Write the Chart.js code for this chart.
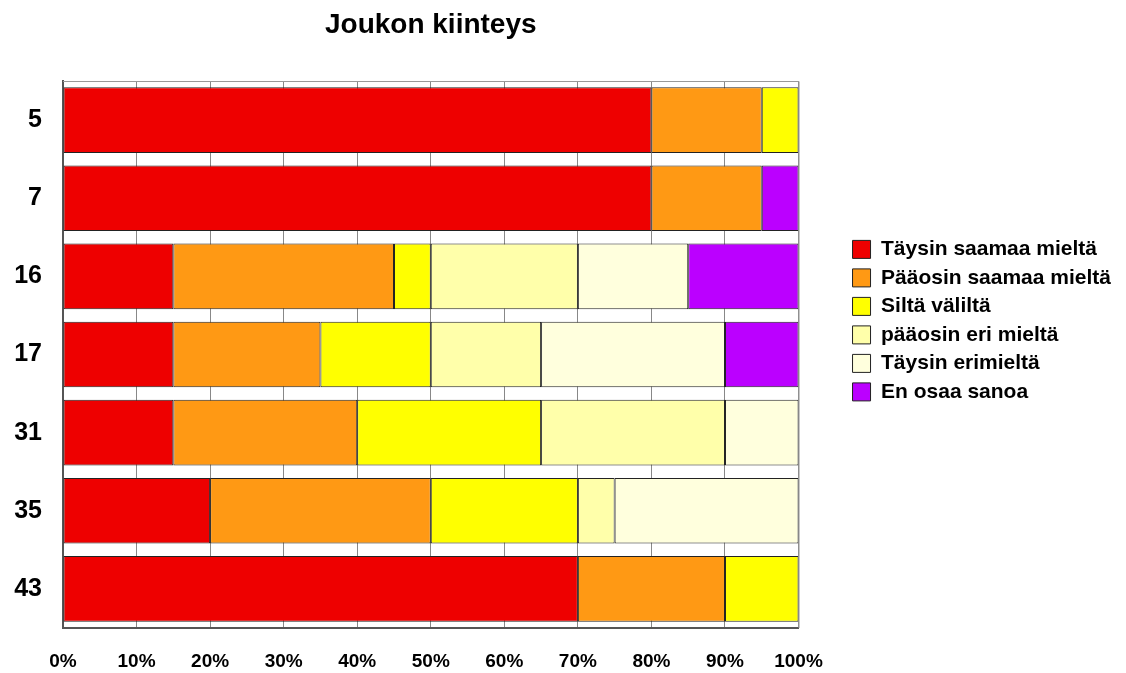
<!DOCTYPE html>
<html lang="fi">
<head>
    <meta charset="UTF-8">
    <title>Joukon kiinteys</title>
    <script src="https://cdn.jsdelivr.net/npm/chart.js"></script>
    <style>
        body { margin: 0; background: #fff; }
    </style>
</head>
<body>
<canvas id="kiinteys" width="1126" height="673"></canvas>
<script>
    // kategoriat (pystyakseli)
    const categories = ['5', '7', '16', '17', '31', '35', '43'];

    // vastausten osuudet prosentteina
    const taysinSamaa = [80, 80, 15, 15, 15, 20, 70];
    const paaosinSamaa = [15, 15, 30, 20, 25, 30, 20];
    const siltaValilta = [5, 0, 5, 15, 25, 20, 10];
    const paaosinEri = [0, 0, 20, 15, 25, 5, 0];
    const taysinEri = [0, 0, 15, 25, 10, 25, 0];
    const enOsaa = [0, 5, 15, 10, 0, 0, 0];

    const seriesNames = ['Täysin saamaa mieltä', 'Pääosin saamaa mieltä', 'Siltä väliltä',
        'pääosin eri mieltä', 'Täysin erimieltä', 'En osaa sanoa'];
    const xTicks = [0, 10, 20, 30, 40, 50, 60, 70, 80, 90, 100];

    const colors = ['#EE0000', '#FF9914', '#FFFF00', '#FFFFAA', '#FFFFDD', '#BB00FF'];
    const seriesData = [taysinSamaa, paaosinSamaa, siltaValilta, paaosinEri, taysinEri, enOsaa];

    const font = "'Liberation Sans', Arial, sans-serif";

    const datasets = seriesNames.map((name, i) => ({
        label: name,
        data: seriesData[i],
        backgroundColor: colors[i],
        borderColor: '#222',
        borderWidth: 1,
        borderSkipped: false,
        barPercentage: 0.84,
        categoryPercentage: 1
    }));

    // kehys kuva-alueen ympärille
    const frame = {
        id: 'frame',
        afterDraw(chart) {
            const a = chart.chartArea;
            const c = chart.ctx;
            c.save();
            c.strokeStyle = '#999';
            c.lineWidth = 1;
            c.beginPath();
            c.moveTo(a.left, a.top + 0.5);
            c.lineTo(a.right + 0.5, a.top + 0.5);
            c.lineTo(a.right + 0.5, a.bottom);
            c.stroke();
            c.restore();
        }
    };

    new Chart(document.getElementById('kiinteys').getContext('2d'), {
        type: 'bar',
        data: { labels: categories, datasets: datasets },
        plugins: [frame],
        options: {
            indexAxis: 'y',
            responsive: false,
            animation: false,
            layout: { padding: { left: 14, right: 5, top: 0, bottom: 0 } },
            plugins: {
                title: {
                    display: true,
                    text: 'Joukon kiinteys',
                    fullSize: false,
                    color: '#000',
                    font: { family: font, size: 28, weight: 'bold' },
                    padding: { top: 8, bottom: 39.4 }
                },
                legend: {
                    position: 'right',
                    align: 'start',
                    maxWidth: 320,
                    title: {
                        display: true,
                        text: ' ',
                        padding: { top: 211, bottom: 0 },
                        font: { family: font, size: 17 }
                    },
                    labels: {
                        color: '#000',
                        font: { family: font, size: 21, weight: 'bold' },
                        boxWidth: 18,
                        boxHeight: 18,
                        padding: 7.5
                    }
                },
                tooltip: { enabled: false }
            },
            scales: {
                x: {
                    stacked: true,
                    min: 0,
                    max: 100,
                    afterBuildTicks(axis) {
                        axis.ticks = xTicks.map(v => ({ value: v }));
                    },
                    afterFit(s) { s.height = 45; },
                    ticks: {
                        color: '#000',
                        font: { family: font, size: 19, weight: 'bold' },
                        padding: 22,
                        maxRotation: 0,
                        callback: v => v + '%'
                    },
                    grid: { color: '#888', tickLength: 0, drawTicks: false },
                    border: { color: '#555', width: 2 }
                },
                y: {
                    stacked: true,
                    afterFit(s) { s.width = 49; },
                    ticks: {
                        color: '#000',
                        font: { family: font, size: 25, weight: 'bold' },
                        padding: 21
                    },
                    grid: { display: false, drawTicks: false },
                    border: { color: '#555', width: 2 }
                },
                // tyhjä akseli: väli kuvaajan ja selitteen välille
                gap: {
                    type: 'linear',
                    position: 'right',
                    display: true,
                    grid: { display: false, drawTicks: false },
                    border: { display: false },
                    ticks: { display: false },
                    afterFit(s) { s.width = 46.5; }
                }
            }
        }
    });
</script>
</body>
</html>
